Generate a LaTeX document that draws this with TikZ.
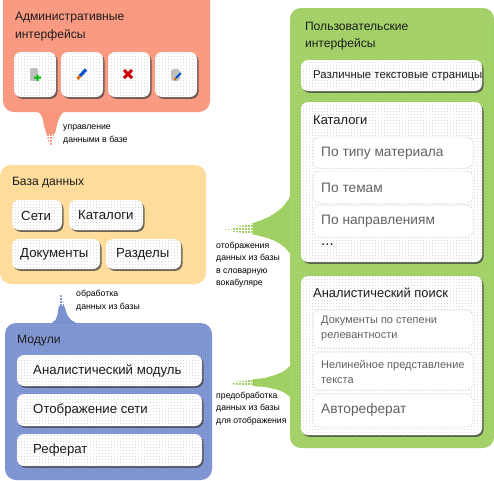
\documentclass[tikz,border=0pt]{standalone}
\usepackage{fontspec}
\setmainfont{Liberation Sans}
\usetikzlibrary{patterns,shadows}
\definecolor{orangeP}{HTML}{F9977E}
\definecolor{orangeD}{HTML}{FFB8A6}
\definecolor{yellowP}{HTML}{FFDA96}
\definecolor{yellowD}{HTML}{FFF0CC}
\definecolor{blueP}{HTML}{7C92D0}
\definecolor{blueD}{HTML}{A9B9E2}
\definecolor{greenP}{HTML}{A0D064}
\definecolor{greenD}{HTML}{C2E294}
\definecolor{txt}{HTML}{1C1C1C}
\pgfdeclarepatternformonly{ditherA}{\pgfpointorigin}{\pgfqpoint{2pt}{2pt}}{\pgfqpoint{2pt}{2pt}}{\pgfpathrectangle{\pgfpointorigin}{\pgfqpoint{1pt}{1pt}}\pgfusepath{fill}}
\pgfdeclarepatternformonly{ditherB}{\pgfpointorigin}{\pgfqpoint{3pt}{3pt}}{\pgfqpoint{3pt}{3pt}}{\pgfpathrectangle{\pgfpointorigin}{\pgfqpoint{1pt}{1pt}}\pgfusepath{fill}}
\tikzset{
 x=1pt,y=-1pt,
 panel/.style={rounded corners=11pt},
 card/.style={fill=white,rounded corners=7pt,drop shadow={shadow xshift=1.5pt,shadow yshift=-1.8pt,fill=black!75,opacity=.75}},
 carddots/.style={rounded corners=7pt,pattern=ditherB,pattern color=black!14},
 sub/.style={fill=white,draw=black!28,densely dotted,line width=.5pt,rounded corners=7pt},
 ttl/.style={anchor=west,text=txt,font=\fontsize{12.1}{15}\selectfont,align=left},
 ttlb/.style={anchor=west,text=txt,font=\fontsize{12.9}{15}\selectfont,align=left},
 lab/.style={anchor=west,text=txt,font=\fontsize{13.2}{16}\selectfont},
 sublab/.style={anchor=west,text=black!62,align=left,font=\fontsize{13.7}{16}\selectfont},
 note/.style={anchor=north west,text=black,align=left,inner sep=0pt,font=\fontsize{8.7}{12.6}\selectfont},
}
\newcommand{\cardbox}[5]{\fill[card] (#2,#3) rectangle (#4,#5); \fill[carddots] (#2,#3) rectangle (#4,#5); \coordinate (#1) at (#2,#3);}
\newcommand{\subbox}[4]{\draw[sub] (#1,#2) rectangle (#3,#4);}
\newcommand{\panelbox}[6]{\fill[#1,panel] (#3,#4) rectangle (#5,#6); \fill[panel,pattern=ditherA,pattern color=#2] (#3,#4) rectangle (#5,#6);}
% halftone: colour, xmin, xmax, ymin, ymax, expression of \x,\y giving density 0..1
\newcommand{\halftone}[6]{%
 \foreach \x in {#2,\the\numexpr#2+3\relax,...,#3}{%
  \foreach \y in {#4,\the\numexpr#4+3\relax,...,#5}{%
   \pgfmathsetmacro{\hs}{1.9*min(1,max(0,#6))}%
   \fill[#1] ({\x-\hs},{\y-\hs}) rectangle ({\x+\hs},{\y+\hs});
  }}}
\begin{document}
\begin{tikzpicture}
\useasboundingbox (0,0) rectangle (494,480);
\fill[white] (0,0) rectangle (494,480);
% tails (halftone)
\begin{scope}
\clip (33,110) .. controls (41,111) and (43,117) .. (44,125) -- (50.5,149) -- (57,125) .. controls (59,117) and (61,111) .. (69,110) -- cycle;
\halftone{orangeP}{30}{72}{108}{150}{(150-\y)/22}
\end{scope}
\begin{scope}
\clip (49,324) .. controls (56,322) and (57,318) .. (58,312) -- (60.5,292) -- (66,312) .. controls (68,318) and (72,322) .. (79,324) -- cycle;
\halftone{blueP}{46}{82}{290}{326}{(\y-290)/20}
\end{scope}
\begin{scope}
\clip (291,195) .. controls (285,207) and (275,217) .. (250,224) -- (222,230) -- (250,234) .. controls (275,238) and (285,245) .. (291,255) -- cycle;
\halftone{greenP}{222}{294}{193}{257}{(\x-220)/42}
\end{scope}
\begin{scope}
\clip (291,365) .. controls (286,371) and (280,374) .. (265,378) -- (222,383.5) -- (265,387) .. controls (278,389) and (286,392) .. (291,398) -- cycle;
\halftone{greenP}{222}{294}{363}{400}{(\x-220)/42}
\end{scope}
% panels
\panelbox{orangeP}{orangeD}{3}{-12}{210}{112}
\panelbox{yellowP}{yellowD}{0}{165}{206}{284}
\panelbox{blueP}{blueD}{5}{323}{212}{480}
\panelbox{greenP}{greenD}{290}{8}{494}{448}
% titles
\node[ttl] (t1) at (11.5,17.5) {Административные};
\node[ttl] (t1b) at (11.5,35) {интерфейсы};
\node[ttl] (t2) at (8.5,182.5) {База данных};
\node[ttl] (t3) at (13.7,341) {Модули};
\node[ttl] (t4) at (301.5,26) {Пользовательские};
\node[ttl] (t4b) at (301.5,44) {интерфейсы};
% admin buttons
\cardbox{b1}{14}{52}{56}{97}
\cardbox{b2}{61}{52}{103}{97}
\cardbox{b3}{108}{52}{150}{97}
\cardbox{b4}{155}{52}{197}{97}
% icons
\fill[black!25,rounded corners=2pt] (30,68) rectangle (38,81);
\fill[green!75!black] (34,76.5) rectangle (41,78.5) (36.5,74.5) rectangle (38.5,81);
\draw[line width=3.2pt,blue!60!cyan!80!black] (80,76) -- (86,69.5);
\draw[line width=3pt,orange!85!black] (77.5,79) -- (80,76);
\draw[line width=3pt,red!80!black] (124,70) -- (132,78) (132,70) -- (124,78);
\fill[black!25,rounded corners=3pt] (171,69) rectangle (180,81);
\draw[line width=1.8pt,blue!60!cyan!80!black] (176,78) -- (181,73);
\draw[line width=1.8pt,orange!85!black] (174.5,80) -- (176,78);
% yellow
\cardbox{y1}{12}{200}{62}{230}
\cardbox{y2}{69}{200}{143}{230}
\cardbox{y3}{12}{239}{100}{269}
\cardbox{y4}{106}{239}{181}{269}
\node[lab] (l1) at (17.7,215.5) {Сети};
\node[lab] (l2) at (74.7,215.5) {Каталоги};
\node[lab] (l3) at (16.7,254) {Документы};
\node[lab] (l4) at (112.7,254) {Разделы};
% blue
\cardbox{m1}{17}{355}{202}{386}
\cardbox{m2}{17}{394}{202}{426}
\cardbox{m3}{17}{434}{202}{466}
\node[lab] (m1t) at (29.7,371) {Аналистический модуль};
\node[lab] (m2t) at (29.7,410) {Отображение сети};
\node[lab] (m3t) at (29.7,450) {Реферат};
% green
\cardbox{g1}{301}{60}{482}{91}
\node[anchor=west,text=txt,font=\fontsize{11.35}{13}\selectfont] (g1t) at (309.7,76) {Различные текстовые страницы};
\cardbox{g2}{301}{102}{482}{262}
\node[ttlb] (g2t) at (309.7,120) {Каталоги};
\subbox{313}{137}{473}{168}
\subbox{313}{171}{473}{203}
\subbox{313}{205}{473}{237}
\node[sublab] (s1) at (317.7,153) {По типу материала};
\node[sublab] (s2) at (317.7,188) {По темам};
\node[sublab] (s3) at (317.7,221) {По направлениям};
\node[anchor=west,text=txt,font=\fontsize{15}{15}\selectfont] (s4) at (317.7,245) {...};
\cardbox{g3}{301}{276}{482}{435}
\node[ttlb] (g3t) at (309.7,293) {Аналистический поиск};
\subbox{313}{310}{473}{348}
\subbox{313}{352}{473}{390}
\subbox{313}{394}{473}{427}
\node[sublab,font=\fontsize{11}{15}\selectfont] (s5) at (317.7,328.5) {Документы по степени\\релевантности};
\node[sublab,font=\fontsize{11}{15}\selectfont] (s6) at (317.7,371.5) {Нелинейное представление\\текста};
\node[sublab,font=\fontsize{13.7}{16}\selectfont] (s7) at (317.7,410) {Автореферат};
% notes
\node[note] (n1) at (63,125) {управление\\данными в базе};
\node[note] (n2) at (76,290) {обработка\\данных из базы};
\node[note] (n3) at (216,241.5) {отображения\\данных из базы\\в словарную\\вокабуляре};
\node[note] (n4) at (216,391.5) {предобработка\\данных из базы\\для отображения};
\end{tikzpicture}
\end{document}
